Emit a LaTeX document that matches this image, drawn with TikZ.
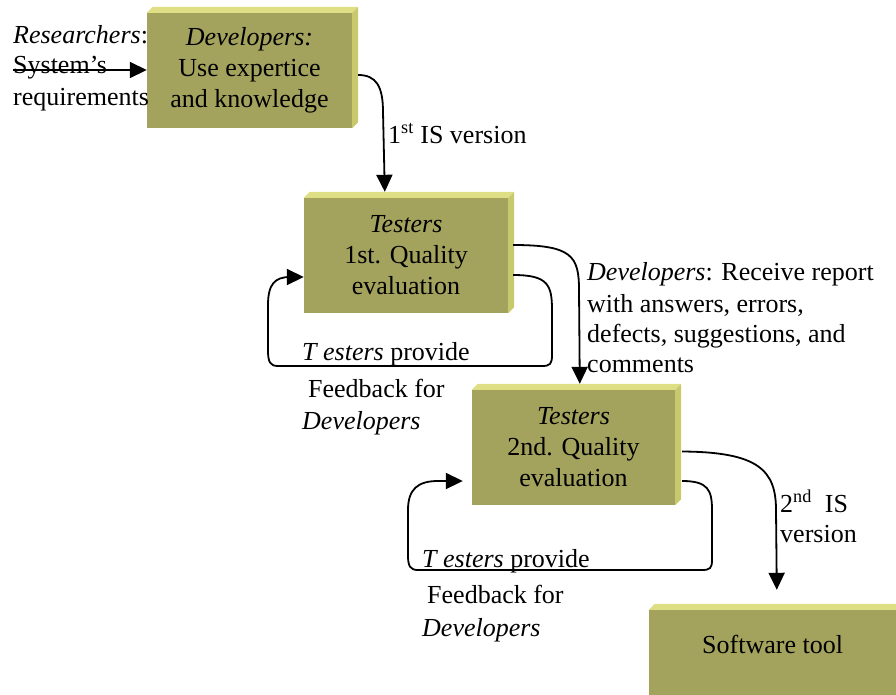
\documentclass[tikz,border=0pt]{standalone}
\usepackage{fontspec}
\setmainfont{Liberation Serif}
\usetikzlibrary{arrows.meta,calc}
\definecolor{faceol}{HTML}{A3A35E}
\definecolor{topbevc}{HTML}{DEDE84}
\definecolor{sidebevc}{HTML}{C8C86C}
\tikzset{
  every node/.style={font=\fontsize{26}{31}\selectfont, inner sep=0pt},
  boxface/.style={fill=faceol, draw=none, align=center},
  lbl/.style={anchor=base west},
  arr/.style={line width=1.8pt, -{Triangle[length=17pt,width=16pt]}},
  lnk/.style={line width=1.8pt}
}
\newcommand\mybevel[1]{%
  \fill[topbevc] (#1.north west) -- ++(6,-6) -- ($(#1.north east)+(6,-6)$) -- (#1.north east) -- cycle;
  \fill[sidebevc] (#1.north east) -- ++(6,-6) -- ($(#1.south east)+(6,-6)$) -- (#1.south east) -- cycle;}
\begin{document}
\begin{tikzpicture}[x=1pt,y=-1pt]
\useasboundingbox (0,0) rectangle (896,694);
\clip (0,0) rectangle (896,694);
% boxes
\node[boxface, minimum width=205pt, minimum height=115pt] (b1) at (249.5,70.5)
  {\textit{Developers:}\\Use expertice\\and knowledge};
\mybevel{b1}
\node[boxface, minimum width=204pt, minimum height=115pt] (b2) at (406,255.5)
  {\textit{Testers}\\1st. Quality\\evaluation};
\mybevel{b2}
\node[boxface, minimum width=203pt, minimum height=115pt] (b3) at (573.5,447.5)
  {\textit{Testers}\\2nd. Quality\\evaluation};
\mybevel{b3}
\node[boxface, minimum width=260pt, minimum height=90pt] (b4) at (779,655) {};
\mybevel{b4}
\node[lbl] (sw) at (702,653) {Software tool};
% researchers
\node[lbl] (r1) at (13,43) {\textit{Researchers}:};
\node[lbl] (r2) at (13,73) {System’s};
\node[lbl] (r3) at (13,105) {requirements};
\coordinate (rs) at (13,70);
\draw[arr] (rs) -- (rs -| b1.west);
% 1st IS version
\coordinate (s1) at ($(b1.east)+(6,4.5)$);
\coordinate (e1) at ($(b2.north west)+(81,-6)$);
\draw[arr] (s1) .. controls (376,75) and (383,86) .. (383,112) -- (e1);
\node[lbl] (v1) at (388,143) {1\textsuperscript{st} IS version};
% developers receive report
\coordinate (s2) at ($(b2.east)+(5,-10.5)$);
\coordinate (e2) at ($(b3.north west)+(108,-6)$);
\draw[arr] (s2) .. controls (572,245) and (579,256) .. (579,290) -- (e2);
\node[lbl] (d1) at (587,280) {\textit{Developers}: Receive report};
\node[lbl] (d2) at (587,312) {with answers, errors,};
\node[lbl] (d3) at (587,342) {defects, suggestions, and};
\node[lbl] (d4) at (587,372) {comments};
% loop 1
\coordinate (s3) at ($(b2.east)+(5,19.5)$);
\coordinate (e3) at ($(b2.west)+(0,21.5)$);
\draw[arr] (s3) .. controls (548,275) and (552,285) .. (552,310) -- (552,355)
  .. controls (552,364) and (550,366) .. (542,366) -- (278,366)
  .. controls (270,366) and (268,362) .. (268,350) -- (268,305)
  .. controls (268,284) and (275,277) .. (290,277) -- (e3);
\node[lbl] (f1) at (302,360) {\textit{T esters} provide};
\node[lbl] (f2) at (308,397) {Feedback for};
\node[lbl] (f3) at (302,429) {\textit{Developers}};
% loop 2
\coordinate (s4) at ($(b3.east)+(7,33.5)$);
\coordinate (e4) at ($(b3.west)+(-9,33.5)$);
\draw[arr] (s4) .. controls (708,481) and (712,490) .. (712,510) -- (712,560)
  .. controls (712,568) and (710,570) .. (702,570) -- (418,570)
  .. controls (410,570) and (408,566) .. (408,555) -- (408,510)
  .. controls (408,489) and (418,481) .. (438,481) -- (e4);
\node[lbl] (g1) at (422,567) {\textit{T esters} provide};
\node[lbl] (g2) at (427,603) {Feedback for};
\node[lbl] (g3) at (422,636) {\textit{Developers}};
% 2nd IS version
\coordinate (s5) at ($(b3.east)+(7,4)$);
\coordinate (e5) at ($(b4.north west)+(128,-20)$);
\draw[arr] (s5) .. controls (758,452) and (776,470) .. (776,510) -- (e5);
\node[lbl] (v2) at (780,512) {2\textsuperscript{nd}\ \ IS};
\node[lbl] (v3) at (780,542) {version};
\end{tikzpicture}
\end{document}
